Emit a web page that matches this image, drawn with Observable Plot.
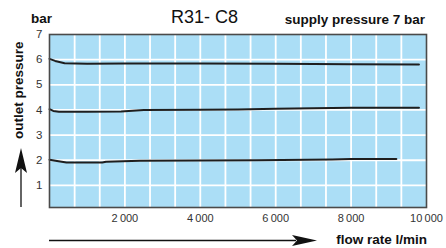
<!DOCTYPE html>
<html>
<head>
<meta charset="utf-8">
<script src="https://cdn.jsdelivr.net/npm/d3@7"></script>
<script src="https://cdn.jsdelivr.net/npm/@observablehq/plot@0.6"></script>
<style>
  html, body { margin: 0; padding: 0; background: #fff; }
  #wrap { position: relative; width: 446px; height: 248px; font-family: "Liberation Sans", Arial, sans-serif; }
  #wrap svg.plot { position: absolute; left: 0; top: 0; }
  .lbl { position: absolute; white-space: nowrap; color: #111; line-height: 1; }
</style>
</head>
<body>
<div id="wrap"></div>
<script>
const title = "R31- C8";
const unitLabel = "bar";
const supplyLabel = "supply pressure 7 bar";
const yLabel = "outlet pressure";
const xLabel = "flow rate l/min";

const yTicks = [1, 2, 3, 4, 5, 6, 7];
const xTicks = [2000, 4000, 6000, 8000, 10000];
const xTickLabels = ["2\u2009000", "4\u2009000", "6\u2009000", "8\u2009000", "10\u2009000"];
const xGrid = [666.7, 1333.3, 2000, 2666.7, 3333.3, 4000, 4666.7, 5333.3, 6000, 6666.7, 7333.3, 8000, 8666.7, 9333.3];

const flow6 = [0, 150, 400, 1000, 2000, 4000, 6000, 8000, 9800];
const p6    = [6.03, 5.95, 5.86, 5.84, 5.85, 5.85, 5.84, 5.82, 5.81];

const flow4 = [0, 100, 250, 1000, 1900, 2500, 4000, 5000, 6000, 7000, 8000, 9800];
const p4    = [4.03, 3.96, 3.93, 3.93, 3.94, 4.0, 4.01, 4.02, 4.05, 4.07, 4.09, 4.09];

const flow2 = [0, 200, 450, 1400, 1500, 2400, 5500, 7500, 8000, 9200];
const p2    = [2.02, 1.97, 1.91, 1.91, 1.94, 1.98, 2.0, 2.03, 2.05, 2.05];

const series = [
  ...flow6.map((f, i) => ({flow: f, p: p6[i], s: "6"})),
  ...flow4.map((f, i) => ({flow: f, p: p4[i], s: "4"})),
  ...flow2.map((f, i) => ({flow: f, p: p2[i], s: "2"}))
];

const chart = Plot.plot({
  width: 446,
  height: 248,
  marginLeft: 49,
  marginRight: 20,
  marginTop: 34,
  marginBottom: 41,
  style: {fontFamily: "Liberation Sans, Arial, sans-serif", fontSize: "11px", color: "#333", background: "transparent"},
  x: {domain: [0, 10000]},
  y: {domain: [0.12, 7]},
  marks: [
    Plot.frame({fill: "#abdef6", stroke: "none"}),
    Plot.gridX(xGrid, {stroke: "#fff", strokeOpacity: 1, strokeWidth: 1.8}),
    Plot.gridY(yTicks.slice(0, 6), {stroke: "#fff", strokeOpacity: 1, strokeWidth: 1.8}),
    Plot.line(series, {x: "flow", y: "p", z: "s", stroke: "#1e1e1e", strokeWidth: 2, curve: "linear"}),
    Plot.frame({stroke: "#4a4a4a", strokeWidth: 1.6}),
    Plot.axisY(yTicks, {tickSize: 0, tickPadding: 7, label: null, fill: "#333", fontSize: 11.5}),
    Plot.axisX(xTicks, {tickSize: 0, tickPadding: 7, label: null, fill: "#333", fontSize: 11,
      tickFormat: (d) => xTickLabels[xTicks.indexOf(d)]})
  ]
});
chart.classList.add("plot");
const wrap = document.getElementById("wrap");
wrap.appendChild(chart);

function addLabel(text, css) {
  const d = document.createElement("div");
  d.className = "lbl";
  d.textContent = text;
  Object.assign(d.style, css);
  wrap.appendChild(d);
  return d;
}
addLabel(unitLabel, {left: "31px", top: "12px", fontSize: "13.5px", fontWeight: "bold"});
addLabel(title, {left: "171px", top: "8px", fontSize: "18px"});
addLabel(supplyLabel, {right: "21px", top: "13px", fontSize: "13.5px", fontWeight: "bold"});
addLabel(xLabel, {right: "19px", top: "233px", fontSize: "13.5px", fontWeight: "bold"});
addLabel(yLabel, {left: "12px", top: "139px", fontSize: "13.5px", fontWeight: "bold",
  transform: "rotate(-90deg)", transformOrigin: "0 0"});

// decorative arrows
const ns = "http://www.w3.org/2000/svg";
const deco = document.createElementNS(ns, "svg");
deco.setAttribute("width", 446);
deco.setAttribute("height", 248);
deco.style.position = "absolute";
deco.style.left = "0";
deco.style.top = "0";
deco.innerHTML =
  '<line x1="21" y1="207" x2="21" y2="168" stroke="#111" stroke-width="1.3"/>' +
  '<path d="M21,148 L27,173 L21,168 L15,173 Z" fill="#111"/>' +
  '<line x1="49" y1="240.5" x2="296" y2="240.5" stroke="#111" stroke-width="1.3"/>' +
  '<path d="M317,240.5 L292,235 L297,240.5 L292,246 Z" fill="#111"/>';
wrap.appendChild(deco);
</script>
</body>
</html>
